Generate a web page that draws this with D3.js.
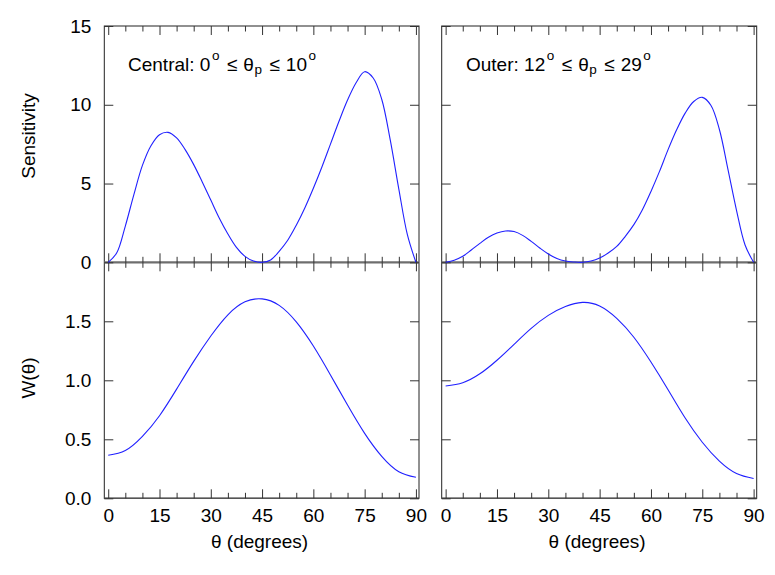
<!DOCTYPE html>
<html>
<head>
<meta charset="utf-8">
<script src="https://cdn.jsdelivr.net/npm/d3@7"></script>
<style>
  body { margin: 0; background: #fff; }
  text { font-family: "Liberation Sans", Arial, sans-serif; }
</style>
</head>
<body>
<svg id="chart" width="775" height="575"></svg>
<script>
// angles (degrees) the curves are sampled at
const thetaFine = [0, 2.5, 5, 7.5, 10, 12.5, 15, 17.5, 20, 22.5, 25, 27.5, 30, 32.5, 35, 37.5, 40, 42.5,
    45, 47.5, 50, 52.5, 55, 57.5, 60, 62.5, 65, 67.5, 70, 72.5, 75, 77.5, 80, 82.5, 85, 87.5, 90];
const thetaCoarse = [0, 5, 10, 15, 20, 25, 30, 35, 40, 45, 50, 55, 60, 65, 70, 75, 80, 85, 90];

// sensitivity
const sensCentral = [0, 0.6, 2.3, 4.3, 6.15, 7.4, 8.1, 8.25, 7.9, 7.15, 6.2, 5.1, 3.95, 2.8, 1.8, 0.95, 0.38, 0.08,
    0, 0.15, 0.7, 1.4, 2.35, 3.45, 4.7, 6.05, 7.5, 8.95, 10.3, 11.4, 12.1, 11.7, 10.35, 7.75, 4.65, 1.75, 0];
const sensOuter = [0, 0.13, 0.38, 0.78, 1.2, 1.59, 1.86, 1.99, 1.95, 1.71, 1.33, 0.91, 0.53, 0.24, 0.08, 0.02, 0,
    0.08, 0.27, 0.59, 1.01, 1.65, 2.39, 3.34, 4.5, 5.77, 7.15, 8.41, 9.47, 10.21, 10.47, 9.97, 8.43, 5.9, 3.3, 1.1, 0];

// W(theta)
const wCentral = [0.365, 0.405, 0.525, 0.70, 0.925, 1.16, 1.375, 1.555, 1.665, 1.69, 1.635, 1.495, 1.29,
    1.045, 0.79, 0.55, 0.355, 0.225, 0.178];
const wOuter = [0.952, 0.98, 1.055, 1.17, 1.305, 1.44, 1.55, 1.625, 1.66, 1.63, 1.525, 1.365, 1.155,
    0.92, 0.68, 0.475, 0.315, 0.21, 0.168];

const majorTicks = [0, 15, 30, 45, 60, 75, 90];
const minorTicks = [5, 10, 20, 25, 35, 40, 50, 55, 65, 70, 80, 85];
const sensTicks = [0, 5, 10, 15];
const wTicks = [0, 0.5, 1.0, 1.5];

const svg = d3.select("#chart");
const panelTop = 26, panelMid = 262.3, panelBot = 498.3;
const font = "Liberation Sans, Arial, sans-serif";
const fs = 19;

const yS = d3.scaleLinear().domain([0, 15]).range([panelMid, panelTop]);
const yW = d3.scaleLinear().domain([0, 2]).range([panelBot, panelMid]);

// annotation pieces: text, gap before it, baseline shift, small
const annPieces = (start, end) => [
    [start, 0, 0, false], ["o", 1.5, -11.5, true], ["\u2264", 7.5, 0, false], ["\u03b8", 6, 0, false],
    ["p", 0.5, 3, true], ["\u2264", 7.5, 0, false], [end, 6, 0, false], ["o", 1.5, -11.5, true]
];
const columns = [
    { x0: 104.3, x1: 419, sens: sensCentral, w: wCentral, yLabels: true,
      labelX: 128, label: annPieces("Central: 0", "10") },
    { x0: 441.7, x1: 756.7, sens: sensOuter, w: wOuter, yLabels: false,
      labelX: 466, label: annPieces("Outer: 12", "29") }
];

// draw only the tick marks of an axis
const ticksOnly = (g, axis, values, size) => {
    g.call(axis.tickValues(values).tickSizeInner(size).tickSizeOuter(0).tickFormat(""));
    g.select(".domain").remove();
    g.selectAll("line").attr("stroke", "#333");
};

columns.forEach(col => {
    const x = d3.scaleLinear().domain([-1.15, 90.9]).range([col.x0, col.x1]);
    const g = svg.append("g");

    // frame
    g.append("rect")
        .attr("x", col.x0).attr("y", panelTop)
        .attr("width", col.x1 - col.x0).attr("height", panelBot - panelTop)
        .attr("fill", "none").attr("stroke", "#222").attr("stroke-width", 1);

    // zero line of the sensitivity panel and bottom line
    g.append("line")
        .attr("x1", col.x0).attr("x2", col.x1)
        .attr("y1", yS(0)).attr("y2", yS(0))
        .attr("stroke", "#6e6e6e").attr("stroke-width", 2.2);
    g.append("line")
        .attr("x1", col.x0).attr("x2", col.x1)
        .attr("y1", yW(0)).attr("y2", yW(0))
        .attr("stroke", "#555").attr("stroke-width", 1.5);

    // x ticks on every horizontal edge, pointing inwards
    [[d3.axisTop, panelTop], [d3.axisBottom, panelMid], [d3.axisTop, panelMid], [d3.axisBottom, panelBot]]
        .forEach(([ax, y]) => {
            ticksOnly(g.append("g").attr("transform", `translate(0,${y})`), ax(x), majorTicks, -9);
            ticksOnly(g.append("g").attr("transform", `translate(0,${y})`), ax(x), minorTicks, -5.5);
        });

    // y ticks on both sides
    ticksOnly(g.append("g").attr("transform", `translate(${col.x0},0)`), d3.axisLeft(yS), sensTicks, -9);
    ticksOnly(g.append("g").attr("transform", `translate(${col.x1},0)`), d3.axisRight(yS), sensTicks, -9);
    ticksOnly(g.append("g").attr("transform", `translate(${col.x0},0)`), d3.axisLeft(yW), wTicks, -9);
    ticksOnly(g.append("g").attr("transform", `translate(${col.x1},0)`), d3.axisRight(yW), wTicks, -9);

    // x tick labels
    const xl = g.append("g")
        .attr("transform", `translate(0,${panelBot})`)
        .call(d3.axisBottom(x).tickValues(majorTicks).tickSize(0).tickPadding(10).tickFormat(d3.format("d")));
    xl.select(".domain").remove();
    xl.attr("font-size", fs).attr("font-family", font);

    if (col.yLabels) {
        const sl = g.append("g")
            .attr("transform", `translate(${col.x0},0)`)
            .call(d3.axisLeft(yS).tickValues(sensTicks).tickSize(0).tickPadding(13).tickFormat(d3.format("d")));
        sl.select(".domain").remove();
        sl.attr("font-size", fs).attr("font-family", font);
        const wl = g.append("g")
            .attr("transform", `translate(${col.x0},0)`)
            .call(d3.axisLeft(yW).tickValues(wTicks).tickSize(0).tickPadding(13).tickFormat(d3.format(".1f")));
        wl.select(".domain").remove();
        wl.attr("font-size", fs).attr("font-family", font);
    }

    // x axis title
    g.append("text")
        .attr("x", x(45) - 2.5).attr("y", 548)
        .attr("text-anchor", "middle").attr("font-size", fs)
        .text("\u03b8 (degrees)");

    // panel annotation, laid out in sequence
    const ann = g.append("text").attr("x", col.labelX).attr("y", 71).attr("font-size", fs);
    col.label.forEach(([t, gap, shift, small]) => {
        ann.append("tspan")
            .attr("dx", gap).attr("y", 71 + shift)
            .attr("font-size", small ? 13.5 : fs)
            .text(t);
    });

    // curves
    const sensLine = d3.line()
        .x((d, i) => x(thetaFine[i]))
        .y(d => yS(d))
        .curve(d3.curveCatmullRom.alpha(0.5));
    const wLine = d3.line()
        .x((d, i) => x(thetaCoarse[i]))
        .y(d => yW(d))
        .curve(d3.curveNatural);

    g.append("path").datum(col.sens)
        .attr("d", sensLine)
        .attr("fill", "none").attr("stroke", "#2020ff").attr("stroke-width", 1.1);
    g.append("path").datum(col.w)
        .attr("d", wLine)
        .attr("fill", "none").attr("stroke", "#2020ff").attr("stroke-width", 1.1);
});

// y axis titles
svg.append("text")
    .attr("transform", "translate(35,136) rotate(-90)")
    .attr("text-anchor", "middle").attr("font-size", fs)
    .text("Sensitivity");
svg.append("text")
    .attr("transform", "translate(35,378) rotate(-90)")
    .attr("text-anchor", "middle").attr("font-size", fs)
    .text("W(\u03b8)");
</script>
</body>
</html>
